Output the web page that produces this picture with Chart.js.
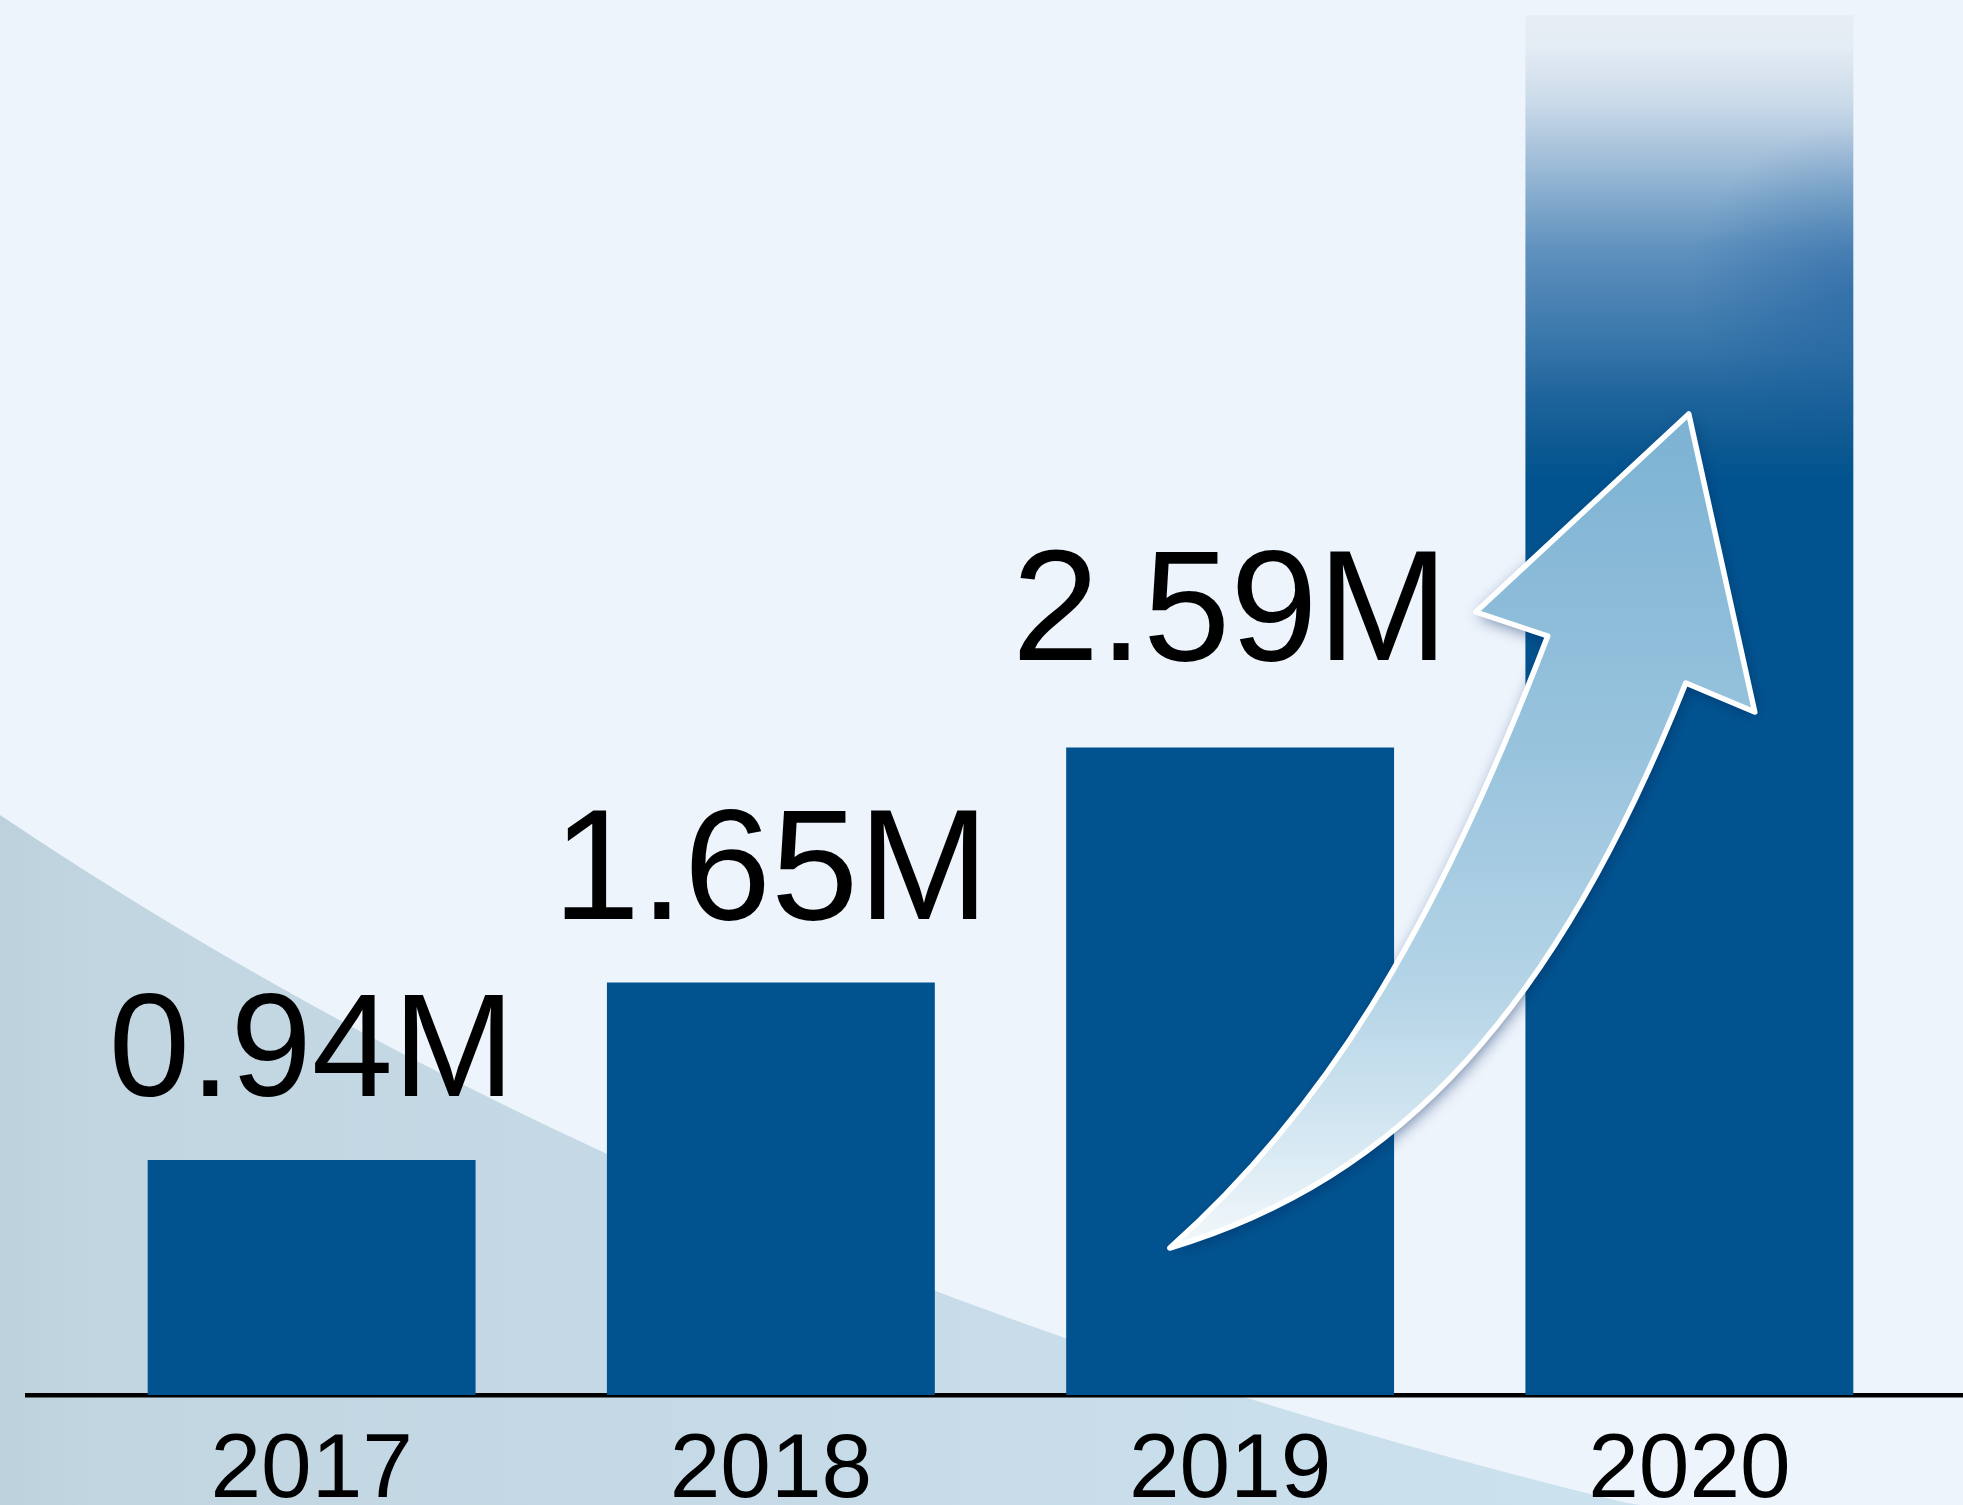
<!DOCTYPE html>
<html>
<head>
<meta charset="utf-8">
<script src="https://cdn.jsdelivr.net/npm/chart.js@4.4.1/dist/chart.umd.min.js"></script>
<style>
  html, body { margin: 0; padding: 0; background: #eef4fc; overflow: hidden; }
  #wrap { width: 1963px; height: 1505px; position: relative; }
  canvas { display: block; }
</style>
</head>
<body>
<div id="wrap"><canvas id="chart" width="1963" height="1505"></canvas></div>
<script>
// Yearly totals, in millions
const years = ['2017', '2018', '2019', '2020'];
const totals = [0.94, 1.65, 2.59, 5.52];
// Which bars carry a value label above them
const showValue = [true, true, true, false];
// Label styling per bar: font size and gap above the bar top (px)
const valueFontSize = [146, 157, 157, 157];
const valueGap = [64, 64, 88, 64];

const BAR = '#01538f';
const FONT = "'Liberation Sans', Arial, Helvetica, sans-serif";
const FADED = 3; // index of the bar drawn with a fading top

Chart.defaults.font.family = FONT;

// Fading fill for the last bar: solid at the base, dissolving into the page at the top
function barFill(ctx) {
  if (ctx.dataIndex !== FADED) return BAR;
  const chart = ctx.chart;
  if (!chart.chartArea) return BAR;
  const y = chart.scales.y;
  const top = y.getPixelForValue(ctx.raw);
  const base = y.getPixelForValue(0);
  const g = chart.ctx.createLinearGradient(0, top, 0, base);
  g.addColorStop(0.000, '#e7eef6');
  g.addColorStop(0.025, '#e3ebf4');
  g.addColorStop(0.062, '#cbdbe9');
  g.addColorStop(0.098, '#a8c2db');
  g.addColorStop(0.134, '#82aacc');
  g.addColorStop(0.170, '#5f91be');
  g.addColorStop(0.207, '#4a82b3');
  g.addColorStop(0.243, '#3474a8');
  g.addColorStop(0.279, '#1d639b');
  g.addColorStop(0.315, '#0b5891');
  g.addColorStop(0.335, BAR);
  g.addColorStop(1.000, BAR);
  return g;
}

// Page background with the sweeping pale band at the lower left
const backdrop = {
  id: 'backdrop',
  beforeDraw(chart) {
    const { ctx, width: W, height: H } = chart;
    ctx.save();
    ctx.fillStyle = '#eef4fc';
    ctx.fillRect(0, 0, W, H);
    const band = ctx.createLinearGradient(0, 0, W * 0.84, 0);
    band.addColorStop(0.00, '#bdd1dd');
    band.addColorStop(0.06, '#c2d6e2');
    band.addColorStop(0.50, '#c6dbe7');
    band.addColorStop(1.00, '#cce2ef');
    ctx.fillStyle = band;
    ctx.beginPath();
    ctx.moveTo(0, H * 0.5415);
    ctx.quadraticCurveTo(W * 0.3464, H * 0.8452, W * 0.8288, H * 0.9987);
    ctx.lineTo(W * 0.836, H);
    ctx.lineTo(0, H);
    ctx.closePath();
    ctx.fill();
    ctx.restore();
  }
};

// Heavy black base line running under the bars
const baseLine = {
  id: 'baseLine',
  beforeDatasetsDraw(chart) {
    const { ctx, width: W } = chart;
    const y0 = chart.scales.y.getPixelForValue(0);
    ctx.save();
    ctx.fillStyle = '#000';
    ctx.fillRect(25, y0 - 2, W - 25, 4.5);
    ctx.restore();
  }
};

// Slight shading down the right side of the faded part of the last bar
const barSheen = {
  id: 'barSheen',
  afterDatasetsDraw(chart) {
    const { ctx } = chart;
    const bar = chart.getDatasetMeta(0).data[FADED];
    if (!bar) return;
    const left = bar.x - bar.width / 2, right = bar.x + bar.width / 2;
    const top = bar.y, h = bar.base - bar.y;
    ctx.save();
    ctx.beginPath();
    ctx.rect(left, top, bar.width, h * 0.34);
    ctx.clip();
    const cy = top + h * 0.2;
    const dark = ctx.createRadialGradient(right, cy, 0, right, cy, bar.width * 0.5);
    dark.addColorStop(0, 'rgba(8, 78, 150, 0.35)');
    dark.addColorStop(1, 'rgba(8, 78, 150, 0)');
    ctx.fillStyle = dark;
    ctx.fillRect(left, top, bar.width, h * 0.34);
    ctx.restore();
  }
};

// Curved growth arrow, placed in category / value units
const growthArrow = {
  id: 'growthArrow',
  afterDatasetsDraw(chart) {
    const { ctx } = chart;
    const xs = chart.scales.x, ys = chart.scales.y;
    const x0 = xs.getPixelForValue(0);
    const step = xs.getPixelForValue(1) - x0;
    const P = ([u, v]) => [x0 + u * step, ys.getPixelForValue(v)];

    const tail = P([1.8685, 0.588]);
    const l1 = P([2.1958, 1.124]), l2 = P([2.4353, 1.808]), neckL = P([2.6916, 3.036]);
    const wingL = P([2.5348, 3.132]), tip = P([2.9987, 3.924]);
    const wingR = P([3.1424, 2.732]), neckR = P([2.9922, 2.848]);
    const r2 = P([2.7086, 1.543]), r1 = P([2.3715, 0.865]);

    const path = () => {
      ctx.beginPath();
      ctx.moveTo(tail[0], tail[1]);
      ctx.bezierCurveTo(l1[0], l1[1], l2[0], l2[1], neckL[0], neckL[1]);
      ctx.lineTo(wingL[0], wingL[1]);
      ctx.lineTo(tip[0], tip[1]);
      ctx.lineTo(wingR[0], wingR[1]);
      ctx.lineTo(neckR[0], neckR[1]);
      ctx.bezierCurveTo(r2[0], r2[1], r1[0], r1[1], tail[0], tail[1]);
      ctx.closePath();
    };

    const fill = ctx.createLinearGradient(0, tail[1], 0, tip[1]);
    fill.addColorStop(0.00, '#f3f8fb');
    fill.addColorStop(0.12, '#d8e9f3');
    fill.addColorStop(0.30, '#b6d5e7');
    fill.addColorStop(0.60, '#98c3dd');
    fill.addColorStop(1.00, '#7cb2d3');

    ctx.save();
    path();
    ctx.shadowColor = 'rgba(0, 40, 95, 0.6)';
    ctx.shadowBlur = 16;
    ctx.shadowOffsetX = 2;
    ctx.shadowOffsetY = 4;
    ctx.fillStyle = fill;
    ctx.fill();
    ctx.restore();

    ctx.save();
    path();
    ctx.lineWidth = 5.5;
    ctx.lineJoin = 'round';
    ctx.strokeStyle = '#ffffff';
    ctx.stroke();
    ctx.restore();
  }
};

// Value labels above the bars, taken from the bar values
const valueLabels = {
  id: 'valueLabels',
  afterDatasetsDraw(chart) {
    const { ctx } = chart;
    const meta = chart.getDatasetMeta(0);
    ctx.save();
    ctx.fillStyle = '#000';
    ctx.textAlign = 'center';
    ctx.textBaseline = 'alphabetic';
    meta.data.forEach((bar, i) => {
      if (!showValue[i]) return;
      ctx.font = `${valueFontSize[i]}px ${FONT}`;
      ctx.fillText(totals[i].toFixed(2) + 'M', bar.x, bar.y - valueGap[i]);
    });
    ctx.restore();
  }
};

new Chart(document.getElementById('chart'), {
  type: 'bar',
  data: {
    labels: years,
    datasets: [{
      data: totals,
      backgroundColor: barFill,
      borderWidth: 0,
      barPercentage: 0.714,
      categoryPercentage: 1.0
    }]
  },
  options: {
    responsive: false,
    devicePixelRatio: 1,
    animation: false,
    layout: { padding: { left: 82, right: 44, top: 0, bottom: 0 } },
    plugins: {
      legend: { display: false },
      tooltip: { enabled: false },
      title: { display: false }
    },
    scales: {
      x: {
        grid: { display: false, drawTicks: false },
        border: { display: false },
        ticks: {
          color: '#000',
          font: { size: 91, family: FONT },
          padding: 22,
          maxRotation: 0,
          autoSkip: false
        },
        afterFit(scale) { scale.height = 110; }
      },
      y: {
        display: false,
        min: 0,
        max: 5.58
      }
    }
  },
  plugins: [backdrop, baseLine, barSheen, growthArrow, valueLabels]
});
</script>
</body>
</html>
